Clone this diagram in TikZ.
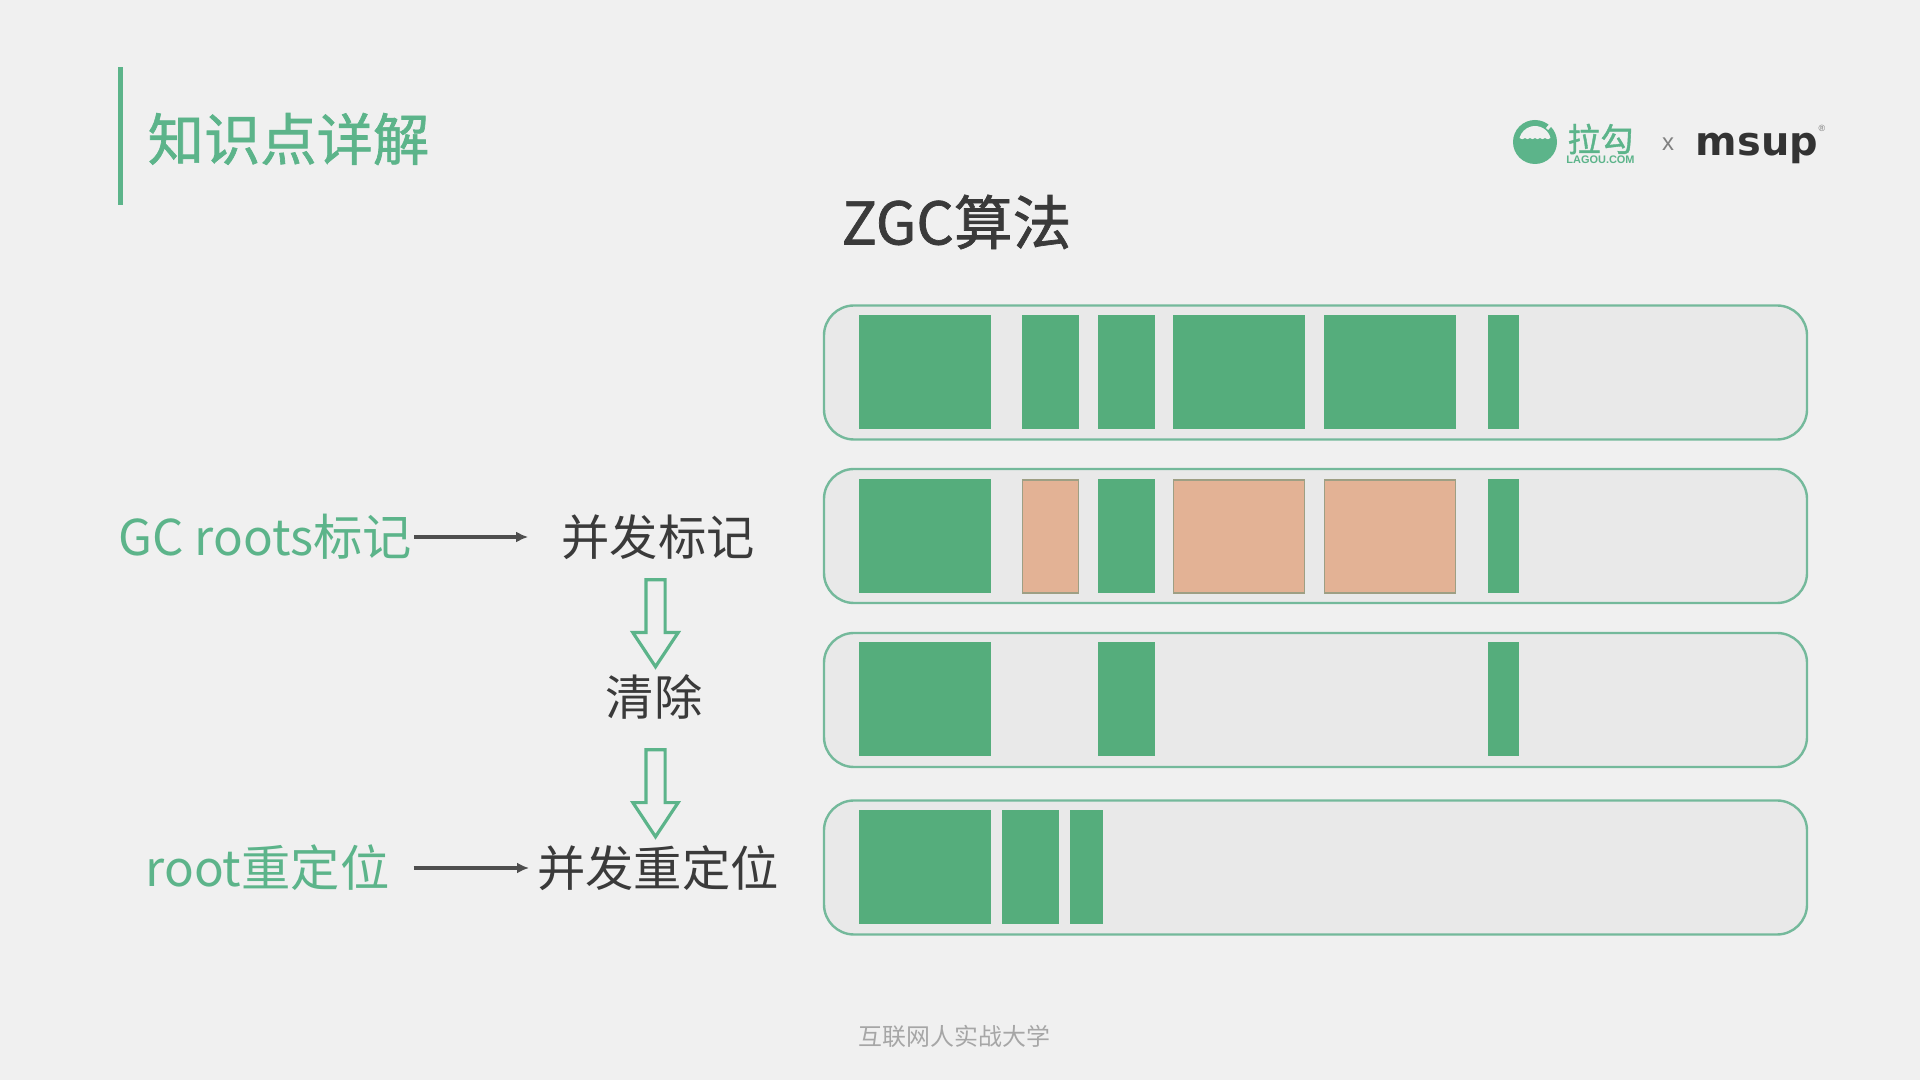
\documentclass[tikz,border=0pt]{standalone}
\usepackage{fontspec}
\setmainfont{Noto Sans CJK SC}
\newfontfamily\titlefont[AutoFakeBold=1.2]{Noto Sans CJK SC}
\newfontfamily\logofont{DejaVu Sans}
\newfontfamily\smallfont{Liberation Sans}
\usetikzlibrary{shapes.arrows,arrows.meta}
\definecolor{pagebg}{HTML}{F0F0F0}
\definecolor{barbg}{HTML}{E9E9E9}
\definecolor{barline}{HTML}{74B99B}
\definecolor{livecol}{HTML}{55AD7C}
\definecolor{deadcol}{HTML}{E3B295}
\definecolor{deadline}{HTML}{9E9F84}
\definecolor{labelgreen}{HTML}{5CB48A}
\definecolor{inkcol}{HTML}{3A3A3A}
\begin{document}
\begin{tikzpicture}[
	x=1bp,y=1bp,
	bar/.style={draw=barline,fill=barbg,line width=2.4bp,rounded corners=30bp,minimum width=983bp,minimum height=134bp,inner sep=0pt},
	live/.style={fill=livecol,minimum height=114bp,inner sep=0pt},
	dead/.style={draw=deadline,fill=deadcol,line width=1.8bp,minimum height=113bp,inner sep=0pt},
	step label/.style={text=inkcol,font=\fontsize{48.5}{52}\selectfont,inner sep=4bp},
	root label/.style={text=labelgreen,font=\fontsize{49.5}{54}\selectfont,inner sep=2bp},
	thin arrow/.style={draw=inkcol!90,line width=3.6bp,-{Latex[length=12bp,width=11bp]}},
	hollow arrow/.style={draw=labelgreen,fill=pagebg,line width=3.2bp,shape=single arrow,shape border rotate=270,inner sep=0pt,text width=16bp,minimum height=87bp,single arrow head extend=13bp,single arrow tip angle=67},
	]
		%% page
		\fill [pagebg] (0bp,0bp) rectangle (1920bp,1080bp);
		\fill [labelgreen] (118bp,875bp) rectangle (123bp,1013bp);
		\node (Title) at (288.5bp,941bp) [text=labelgreen,font=\titlefont\fontsize{56.5}{60}\selectfont\bfseries,inner sep=0pt] {知识点详解};
		\node (Heading) at (956.5bp,858bp) [text=inkcol,font=\titlefont\fontsize{59}{62}\selectfont\bfseries,inner sep=0pt] {ZGC算法};
		\node (Footer) at (954.5bp,44bp) [text=black!35,font=\fontsize{24}{28}\selectfont,inner sep=0pt] {互联网人实战大学};
		%% logos
		\fill [labelgreen] (1535bp,938bp) circle (22bp);
		\fill [pagebg] (1550.5bp,942bp) arc [start angle=14.5,end angle=165.5,radius=16bp] to [bend right=50] (1525bp,942bp) to [bend right=50] (1530bp,942bp) to [bend right=50] (1535bp,942bp) to [bend right=50] (1540bp,942bp) to [bend right=50] (1545bp,942bp) to [bend right=50] cycle;
		\draw [pagebg,line width=3bp] (1547bp,951bp) -- (1556bp,961bp);
		\node (Lagou) at (1600.5bp,941bp) [text=labelgreen,font=\titlefont\fontsize{33}{36}\selectfont\bfseries,inner sep=0pt] {拉勾};
		\node (LagouCom) at (1600.5bp,920bp) [text=labelgreen,font=\smallfont\fontsize{11}{12}\selectfont\bfseries,inner sep=0pt] {LAGOU.COM};
		\node (Cross) at (1668bp,936bp) [text=black!50,font=\smallfont\fontsize{24}{26}\selectfont,inner sep=0pt] {x};
		\node (Msup) at (1757bp,932bp) [text=black!80,font=\logofont\fontsize{40}{44}\selectfont\bfseries,inner sep=0pt] {msup};
		\node (Reg) at (1822bp,952bp) [text=black!55,font=\smallfont\fontsize{9}{10}\selectfont,inner sep=0pt] {®};
		%% bars
		\node (Bar1) at (1315.5bp,707.5bp) [bar] {};
		\node (Bar2) at (1315.5bp,544bp) [bar] {};
		\node (Bar3) at (1315.5bp,380bp) [bar] {};
		\node (Bar4) at (1315.5bp,212.5bp) [bar] {};
		%% first row
		\node (A1) at (925bp,708bp) [live,minimum width=132bp] {};
		\node (A2) at (1050.5bp,708bp) [live,minimum width=57bp] {};
		\node (A3) at (1126.5bp,708bp) [live,minimum width=57bp] {};
		\node (A4) at (1239bp,708bp) [live,minimum width=132bp] {};
		\node (A5) at (1390bp,708bp) [live,minimum width=132bp] {};
		\node (A6) at (1503.5bp,708bp) [live,minimum width=31bp] {};
		%% second row
		\node (B1) at (925bp,543.5bp) [live,minimum width=132bp] {};
		\node (B2) at (1050.5bp,543.5bp) [dead,minimum width=56bp] {};
		\node (B3) at (1126.5bp,543.5bp) [live,minimum width=57bp] {};
		\node (B4) at (1239bp,543.5bp) [dead,minimum width=131bp] {};
		\node (B5) at (1390bp,543.5bp) [dead,minimum width=131bp] {};
		\node (B6) at (1503.5bp,543.5bp) [live,minimum width=31bp] {};
		%% third row
		\node (C1) at (925bp,380.5bp) [live,minimum width=132bp] {};
		\node (C3) at (1126.5bp,380.5bp) [live,minimum width=57bp] {};
		\node (C6) at (1503.5bp,380.5bp) [live,minimum width=31bp] {};
		%% fourth row
		\node (D1) at (925bp,212.5bp) [live,minimum width=132bp] {};
		\node (D2) at (1030.5bp,212.5bp) [live,minimum width=57bp] {};
		\node (D3) at (1086.5bp,212.5bp) [live,minimum width=33bp] {};
		%% labels
		\node (GCRoots) at (265bp,543bp) [root label] {GC roots标记};
		\node (ConcMark) at (658bp,543bp) [step label] {并发标记};
		\node (Sweep) at (654bp,383bp) [step label] {清除};
		\node (RootReloc) at (267.5bp,212bp) [root label] {root重定位};
		\node (ConcReloc) at (658bp,212bp) [step label] {并发重定位};
		\node (DownA) at (655.5bp,464bp) [hollow arrow] {};
		\node (DownB) at (655.5bp,294bp) [hollow arrow] {};
		\draw [thin arrow,shorten >=29bp] (GCRoots) -- (ConcMark);
		\draw [thin arrow,shorten <=22bp,shorten >=4bp] (RootReloc) -- (ConcReloc);
		%
	\end{tikzpicture}
\end{document}
